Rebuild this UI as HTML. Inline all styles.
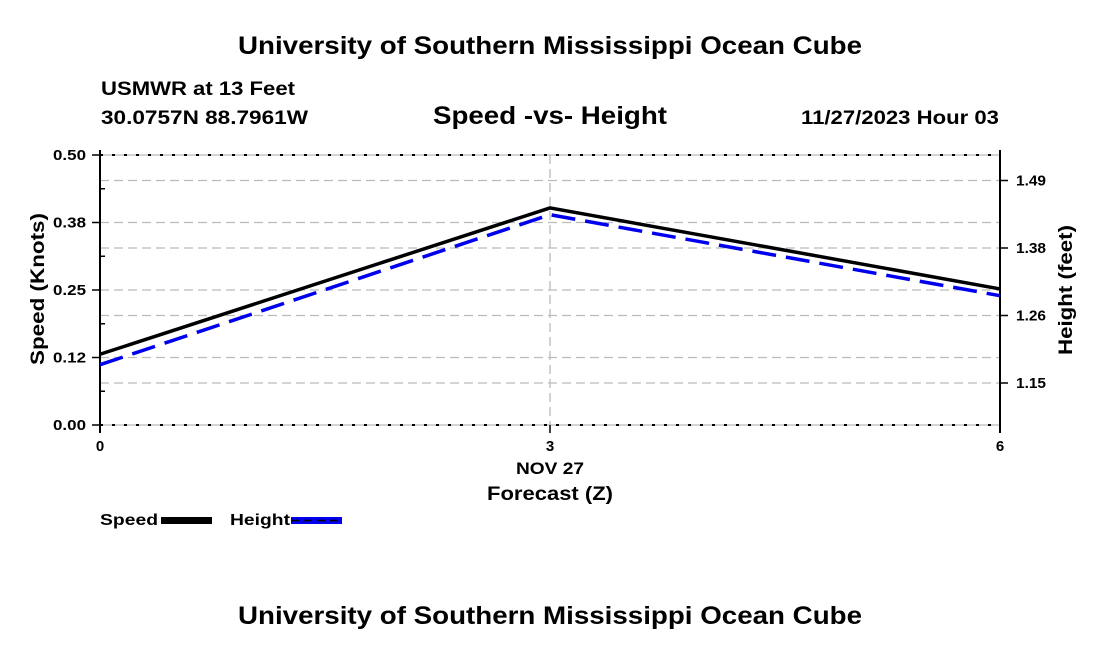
<!DOCTYPE html>
<html><head><meta charset="utf-8"><style>
body{margin:0;background:#fff;width:1100px;height:650px;overflow:hidden}
svg text{font-family:"Liberation Sans",sans-serif;font-weight:bold;fill:#000}
</style></head><body>
<svg id="chart" width="1100" height="650" xmlns="http://www.w3.org/2000/svg">
<text x="550" y="54" font-size="25" text-anchor="middle" textLength="624" lengthAdjust="spacingAndGlyphs">University of Southern Mississippi Ocean Cube</text>
<text x="101" y="95" font-size="19" textLength="194" lengthAdjust="spacingAndGlyphs">USMWR at 13 Feet</text>
<text x="101" y="124" font-size="19" textLength="207" lengthAdjust="spacingAndGlyphs">30.0757N  88.7961W</text>
<text x="550" y="124" font-size="25" text-anchor="middle" textLength="234" lengthAdjust="spacingAndGlyphs">Speed -vs- Height</text>
<text x="999" y="124" font-size="19" text-anchor="end" textLength="198" lengthAdjust="spacingAndGlyphs">11/27/2023 Hour 03</text>
<text x="550" y="624" font-size="25" text-anchor="middle" textLength="624" lengthAdjust="spacingAndGlyphs">University of Southern Mississippi Ocean Cube</text>
<g id="grid"></g><g id="axes"></g><g id="series"></g>
<text x="550" y="474" font-size="17" text-anchor="middle" textLength="68" lengthAdjust="spacingAndGlyphs">NOV 27</text>
<text x="550" y="500" font-size="19" text-anchor="middle" textLength="126" lengthAdjust="spacingAndGlyphs">Forecast (Z)</text>
<text transform="translate(44,289) rotate(-90)" font-size="19" text-anchor="middle" textLength="152" lengthAdjust="spacingAndGlyphs">Speed (Knots)</text>
<text transform="translate(1072,290) rotate(-90)" font-size="19" text-anchor="middle" textLength="130" lengthAdjust="spacingAndGlyphs">Height (feet)</text>
<g>
<text x="100" y="525" font-size="16" textLength="58" lengthAdjust="spacingAndGlyphs">Speed</text>
<rect x="161" y="517" width="51" height="7" fill="#000"/>
<text x="230" y="525" font-size="16" textLength="60" lengthAdjust="spacingAndGlyphs">Height</text>
<rect x="291" y="517" width="51" height="7" fill="#0000ee"/>
<line x1="291" y1="520.5" x2="342" y2="520.5" stroke="#000" stroke-width="1.5" stroke-dasharray="8,5"/>
</g>
</svg>
<script>
const xHours=[0,3,6];
const speedVals=[0.131,0.402,0.252];
const heightVals=[1.183,1.433,1.298];
const leftTicks=[0,0.125,0.25,0.375,0.5];
const leftTickLabels=["0.00","0.12","0.25","0.38","0.50"];
const rightTicks=[1.1525,1.265,1.3775,1.49];
const rightTickLabels=["1.15","1.26","1.38","1.49"];
const xTicks=[0,3,6];
const L=100,R=1000,T=155,B=425;
const xs=h=>L+(h-0)/(6-0)*(R-L);
const yL=v=>B-(v-0)/(0.5-0)*(B-T);
const yR=v=>B-(v-1.0825)/(1.5325-1.0825)*(B-T);
const NS="http://www.w3.org/2000/svg";
function mk(tag,attrs,parent){const e=document.createElementNS(NS,tag);for(const k in attrs)e.setAttribute(k,attrs[k]);document.getElementById(parent).appendChild(e);return e;}
leftTicks.forEach(v=>{
 if(v===0||v===0.5)return;
 const g=mk('line',{x1:L,x2:R,y1:yL(v),y2:yL(v),stroke:'#bbb','stroke-dasharray':'9,5','stroke-width':1.3},'grid');
 
 
});
rightTicks.forEach(v=>{
 const g=mk('line',{x1:L,x2:R,y1:yR(v),y2:yR(v),stroke:'#bbb','stroke-dasharray':'9,5','stroke-width':1.3},'grid');
 
 
});
const vg=mk('line',{x1:xs(3),x2:xs(3),y1:T,y2:B,stroke:'#bbb','stroke-dasharray':'9,5','stroke-width':1.3},'grid');


[T,B].forEach(y=>{
 const d2=mk('line',{x1:L,x2:R,y1:y,y2:y,stroke:'#aaa','stroke-width':1},'grid');
 
 
 const d=mk('line',{x1:L,x2:R,y1:y,y2:y,stroke:'#000','stroke-dasharray':'3,9','stroke-width':2},'grid');
 
 
});
const la=mk('line',{x1:L,x2:L,y1:T-5,y2:B+8,stroke:'#000','stroke-width':2},'axes');


const ra=mk('line',{x1:R,x2:R,y1:T-5,y2:B+8,stroke:'#000','stroke-width':2},'axes');


leftTicks.forEach((v,i)=>{
 mk('line',{x1:L-8,x2:L,y1:yL(v),y2:yL(v),stroke:'#000','stroke-width':1.5},'axes');
 const t=mk('text',{x:L-14,y:yL(v)+5,'font-size':15,'text-anchor':'end',textLength:33,lengthAdjust:'spacingAndGlyphs'},'axes');
 t.textContent=leftTickLabels[i];
 
 
});
[0.0625,0.1875,0.3125,0.4375].forEach(v=>{mk('line',{x1:L,x2:L+5,y1:yL(v),y2:yL(v),stroke:'#000','stroke-width':1.5},'axes');});
rightTicks.forEach((v,i)=>{
 mk('line',{x1:R,x2:R+8,y1:yR(v),y2:yR(v),stroke:'#000','stroke-width':1.5},'axes');
 const t=mk('text',{x:R+16,y:yR(v)+5,'font-size':15,textLength:30,lengthAdjust:'spacingAndGlyphs'},'axes');
 t.textContent=rightTickLabels[i];
 
 
});
xTicks.forEach(h=>{
 mk('line',{x1:xs(h),x2:xs(h),y1:B,y2:B+8,stroke:'#000','stroke-width':1.5},'axes');
 const t=mk('text',{x:xs(h),y:B+26,'font-size':15,'text-anchor':'middle'},'axes');
 t.textContent=String(h);
 
 
});
const sp=mk('polyline',{points:xHours.map((h,i)=>xs(h)+','+yL(speedVals[i])).join(' '),fill:'none',stroke:'#000','stroke-width':3.5},'series');


const hp=mk('polyline',{points:xHours.map((h,i)=>xs(h)+','+yR(heightVals[i])).join(' '),fill:'none',stroke:'#0000ee','stroke-width':3.5,'stroke-dasharray':'24,10'},'series');


</script>
</body></html>
